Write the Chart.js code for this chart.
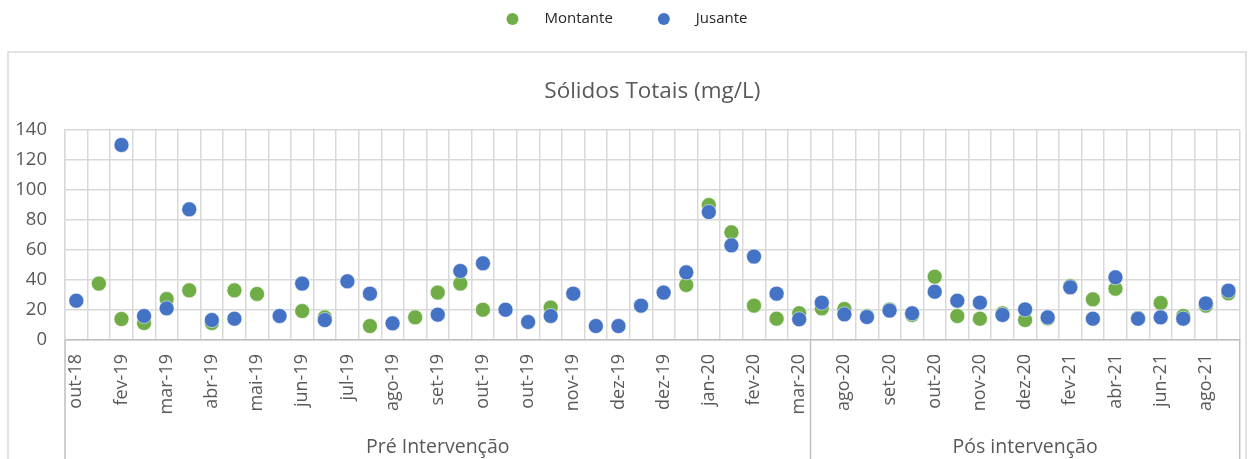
<!DOCTYPE html>
<html lang="pt">
<head>
<meta charset="UTF-8">
<title>Sólidos Totais (mg/L)</title>
<script src="https://cdn.jsdelivr.net/npm/chart.js"></script>
<style>
  body { margin: 0; background: #fff; }
  #caixa { width: 1248px; height: 459px; }
</style>
</head>
<body>
<div id="caixa"><canvas id="grafico"></canvas></div>
<script>
// campanhas de amostragem (só os índices pares aparecem no eixo)
const meses = [
  'out-18', 'jan-19', 'fev-19', 'fev-19', 'mar-19', 'mar-19', 'abr-19', 'abr-19',
  'mai-19', 'mai-19', 'jun-19', 'jun-19', 'jul-19', 'jul-19', 'ago-19', 'ago-19',
  'set-19', 'set-19', 'out-19', 'out-19', 'out-19', 'out-19', 'nov-19', 'nov-19',
  'dez-19', 'dez-19', 'dez-19', 'jan-20', 'jan-20', 'fev-20', 'fev-20', 'mar-20',
  'mar-20', 'ago-20', 'ago-20', 'set-20', 'set-20', 'out-20', 'out-20', 'nov-20',
  'nov-20', 'dez-20', 'dez-20', 'jan-21', 'fev-21', 'mar-21', 'abr-21', 'mai-21',
  'jun-21', 'jul-21', 'ago-21', 'set-21'
];

const montante = [
  null, 37.6, 14, 11.3, 27.3, 33.1, 11.3, 33.1, 30.7, null, 19.3, 15.1, null,
  9.3, null, 15.1, 31.6, 37.6, 20.2, null, null, 21.6, null, null, null, null,
  null, 36.7, 90, 71.8, 22.9, 14.2, 17.8, 21.1, 20.7, 16, 20.4, 16.7, 42.2,
  16, 14.2, 17.8, 13.3, 14.4, 36, 27.1, 34.2, 14.7, 24.7, 16, 22.9, 31.1
];

const jusante = [
  26.2, null, 130, 16, 21.1, 87.1, 13.3, 14.2, null, 16, 37.6, 13.3, 39.1,
  30.9, 11.1, null, 16.9, 46, 51.1, 20.2, 12, 16, 30.9, 9.3, 9.3, 22.9,
  31.6, 45.1, 85.3, 63.1, 55.6, 30.9, 13.8, 24.9, 17.1, 15.3, 19.6, 17.8, 32.2,
  26.2, 24.9, 16.7, 20.4, 15.1, 35.1, 14.2, 41.8, 14.2, 15.1, 14.2, 24.4, 32.9
];

// segundo nível do eixo x
const grupos = ['Pré Intervenção', 'Pós intervenção'];
const tamanhoGrupos = [33, 19];

const yMin = 0, yMax = 140, yPasso = 20;

const fonte = '"Open Sans", "Liberation Sans", sans-serif';
const cinza = '#595959';

// moldura, legenda e rótulos dos grupos
const extras = {
  id: 'extras',
  beforeDraw(chart) {
    const ctx = chart.ctx;
    ctx.save();
    ctx.strokeStyle = '#d9d9d9';
    ctx.lineWidth = 1.5;
    ctx.strokeRect(8, 52, 1238, 440);
    ctx.restore();
  },
  afterDraw(chart) {
    const { ctx, chartArea, scales: { x } } = chart;
    const passo = (chartArea.right - chartArea.left) / meses.length;
    ctx.save();

    // linhas e nomes dos períodos
    ctx.strokeStyle = '#bfbfbf';
    ctx.lineWidth = 1.5;
    ctx.fillStyle = cinza;
    ctx.font = '19.5px ' + fonte;
    ctx.textAlign = 'center';
    ctx.textBaseline = 'middle';
    ctx.beginPath();
    ctx.moveTo(chartArea.left, chartArea.bottom);
    ctx.lineTo(chartArea.left, chart.height);
    let inicio = 0;
    grupos.forEach((nome, i) => {
      const fim = inicio + tamanhoGrupos[i];
      const xa = x.getPixelForValue(inicio) - passo / 2;
      const xb = x.getPixelForValue(fim - 1) + passo / 2;
      ctx.moveTo(xb, chartArea.bottom);
      ctx.lineTo(xb, chart.height);
      ctx.fillText(nome, (xa + xb) / 2, 447);
      inicio = fim;
    });
    ctx.stroke();

    // legenda
    ctx.font = '15px ' + fonte;
    ctx.textAlign = 'left';
    const itens = chart.data.datasets.map(d => ({
      texto: d.label, cor: d.pointBackgroundColor, w: ctx.measureText(d.label).width
    }));
    const total = itens.reduce((s, it) => s + 38 + it.w, 0) + 45 * (itens.length - 1);
    let px = 627 - total / 2;
    itens.forEach(it => {
      ctx.fillStyle = it.cor;
      ctx.beginPath();
      ctx.arc(px + 6, 19, 6, 0, Math.PI * 2);
      ctx.fill();
      ctx.fillStyle = '#262626';
      ctx.fillText(it.texto, px + 38, 19);
      px += 38 + it.w + 45;
    });
    ctx.restore();
  }
};

new Chart(document.getElementById('grafico'), {
  type: 'line',
  data: {
    labels: meses,
    datasets: [
      {
        label: 'Montante', data: montante, order: 1,
        pointBackgroundColor: '#70AD47', pointBorderColor: 'rgba(255,255,255,0.7)',
        borderColor: '#70AD47'
      },
      {
        label: 'Jusante', data: jusante, order: 0,
        pointBackgroundColor: '#4472C4', pointBorderColor: 'rgba(255,255,255,0.7)',
        borderColor: '#4472C4'
      }
    ]
  },
  plugins: [extras],
  options: {
    responsive: true,
    maintainAspectRatio: false,
    animation: false,
    showLine: false,
    elements: { point: { radius: 7.5, hoverRadius: 7.5, borderWidth: 0.8 } },
    layout: { padding: { top: 70, right: 5, left: 0, bottom: 0 } },
    plugins: {
      legend: { display: false },
      tooltip: { enabled: false },
      title: {
        display: true,
        fullSize: false,
        text: 'Sólidos Totais (mg/L)',
        color: cinza,
        font: { family: fonte, size: 22.5, weight: 'normal' },
        padding: { top: 8, bottom: 25 }
      }
    },
    scales: {
      x: {
        offset: true,
        grid: { offset: true, color: '#d9d9d9', lineWidth: 1.5, drawTicks: false },
        border: { color: '#bfbfbf', width: 1.5 },
        ticks: {
          autoSkip: false, minRotation: 90, maxRotation: 90, padding: 14,
          color: cinza, font: { family: fonte, size: 18 },
          callback(v, i) { return i % 2 === 0 ? this.getLabelForValue(v) : ''; }
        },
        afterFit(s) { s.height = 119; s.paddingLeft = 0; s.paddingRight = 0; }
      },
      y: {
        min: yMin, max: yMax,
        grid: { color: '#d9d9d9', lineWidth: 1.5, drawTicks: false },
        border: { color: '#d9d9d9', width: 1.5 },
        ticks: { stepSize: yPasso, padding: 18, color: cinza, font: { family: fonte, size: 18.5 } },
        afterFit(s) { s.width = 65; s.paddingTop = 0; s.paddingBottom = 0; }
      }
    }
  }
});
</script>
</body>
</html>
